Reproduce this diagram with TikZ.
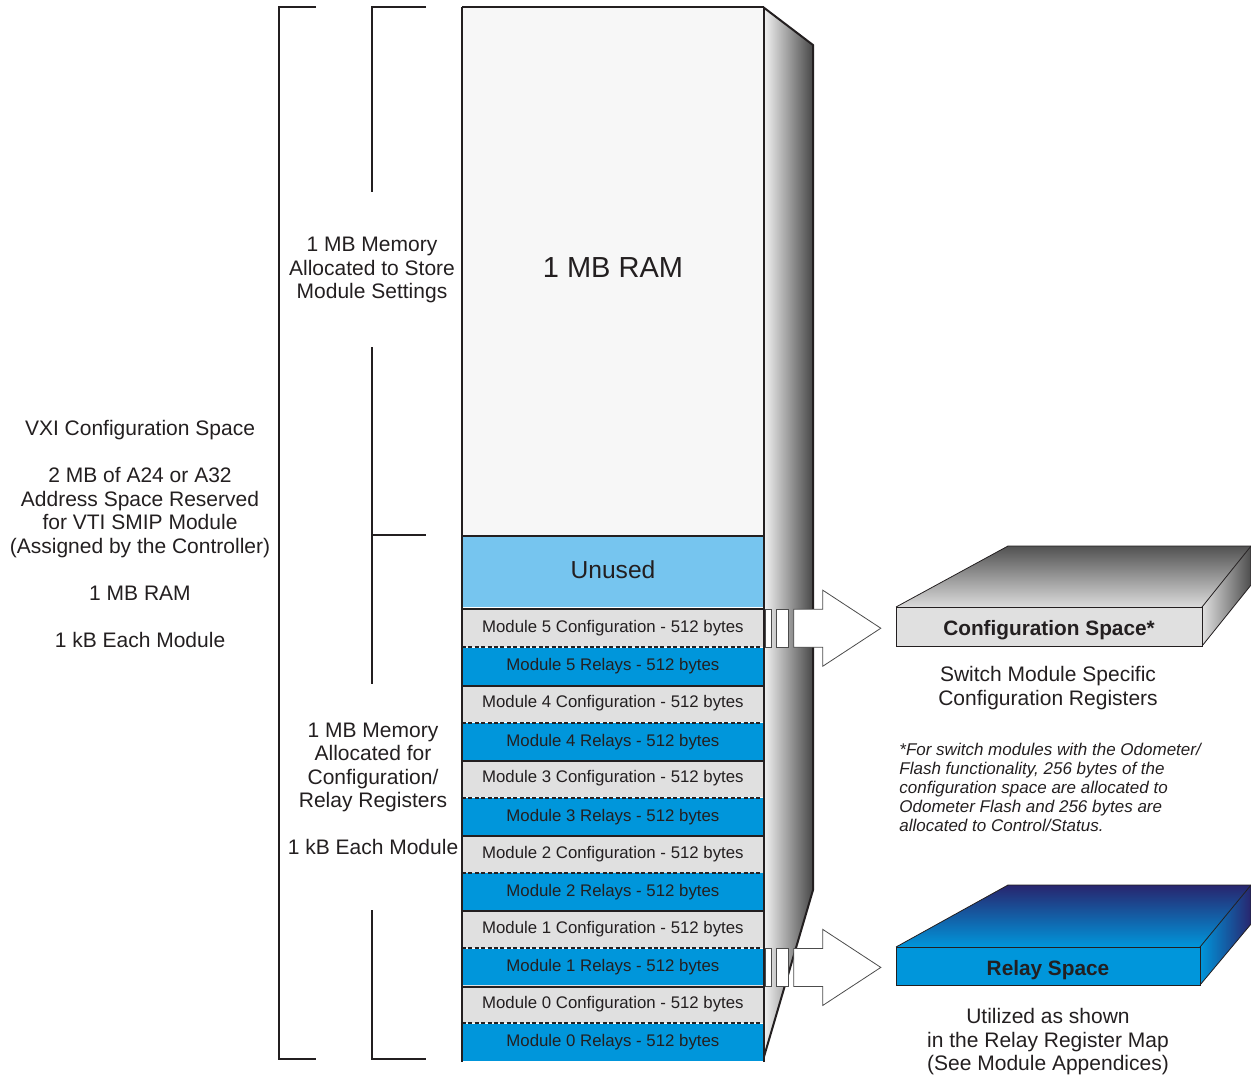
\documentclass[tikz,border=0pt]{standalone}
\usepackage{fontspec}
\setmainfont{Liberation Sans}
\usetikzlibrary{positioning}

\definecolor{ramgray}{HTML}{F7F7F7}
\definecolor{unusedblue}{HTML}{76C5EF}
\definecolor{cfggray}{HTML}{E0E0E0}
\definecolor{relblue}{HTML}{0096DB}
\definecolor{navy}{HTML}{28256E}
\definecolor{inkdark}{HTML}{231F20}

\begin{document}
\begin{tikzpicture}[x=0.5pt,y=-0.5pt,
    txt/.style={font=\fontsize{10.5}{11.75}\selectfont, align=center, inner sep=0pt, text=inkdark},
    rowbox/.style={font=\fontsize{8.4}{10}\selectfont, text=inkdark, inner sep=0pt,
                   minimum width=150.5pt, minimum height=18.8pt},
    cfgrow/.style={rowbox, fill=cfggray},
    relrow/.style={rowbox, fill=relblue},
    edge/.style={line width=1pt, draw=inkdark},
    sep/.style={line width=1pt, draw=inkdark, dash pattern=on 2pt off 1.2pt},
    bracket/.style={line width=1pt, draw=inkdark},
    blockarrow/.style={draw=black!70, fill=white, line width=0.4pt},
    boxline/.style={draw=inkdark, line width=0.4pt},
    spacetxt/.style={inner sep=0pt, font=\bfseries\fontsize{10.4}{12}\selectfont, text=inkdark,
                     text height=11.5pt, text depth=2.2pt}]

  \useasboundingbox (0,0) rectangle (1251,1078);

  % shaded side of the memory column
  \shade[left color=black!4, middle color=black!40, right color=black!72]
    (763,7) -- (813,45) -- (813,890) -- (763,1060) -- cycle;
  \draw[edge] (763,7) -- (813,45) -- (813,890) -- (763,1060);

  % memory column
  \node[fill=ramgray, inner sep=0pt, minimum width=150.5pt, minimum height=264pt, anchor=north west] (ram) at (462,7) {};
  \node[txt, font=\fontsize{14.5}{16}\selectfont] (ramtxt) at (613,268) {1 MB RAM};
  \node[fill=unusedblue, inner sep=0pt, minimum width=150.5pt, minimum height=36pt, anchor=north west] (unused) at (462,535) {};
  \node[txt, font=\fontsize{12.3}{14}\selectfont] (unusedtxt) at (613,570) {Unused};

  \foreach \m in {5,4,3,2,1,0} {
    \pgfmathsetmacro\ytop{609+(5-\m)*75.2}
    \node[cfgrow, anchor=north west] (cfg\m) at (462,\ytop) {Module \m\ Configuration - 512 bytes};
    \node[relrow, below=0pt of cfg\m] (rel\m) {Module \m\ Relays - 512 bytes};
    \draw[sep] (cfg\m.south west) -- (cfg\m.south east);
  }
  \foreach \m in {5,4,3,2,1} {
    \draw[edge] (rel\m.south west) -- (rel\m.south east);
  }
  \draw[edge] (ram.south west) -- (ram.south east);
  \draw[edge] (cfg5.north west) -- (cfg5.north east);
  \draw[edge] (ram.north west) -- (ram.north east);
  \draw[edge] (ram.north west) -- (rel0.south west);
  \draw[edge] (ram.north east) -- (rel0.south east);

  % arrows into the two spaces
  \foreach \r in {cfg5,rel1} {
    \begin{scope}[shift={(\r.east)}]
      \draw[blockarrow] (2,-19) rectangle (8,19);
      \draw[blockarrow] (13,-19) rectangle (25,19);
      \draw[blockarrow] (30,-19) -- (59,-19) -- (59,-38) -- (117,0) -- (59,38) -- (59,19) -- (30,19) -- cycle;
    \end{scope}
  }

  % brackets
  \draw[bracket] (316,7) -| (279,1059) -- (316,1059);
  \draw[bracket] (426,7) -| (372,192);
  \draw[bracket] (372,347) |- (426,535);
  \draw[bracket] (372,535) -- (372,684);
  \draw[bracket] (372,910) |- (426,1059);

  % left texts
  \node[txt] (vxi) at (140,534) {VXI Configuration Space\\[11.75pt]
    2 MB of A24 or A32\\Address Space Reserved\\for VTI SMIP Module\\(Assigned by the Controller)\\[11.75pt]
    1 MB RAM\\[11.75pt]1 kB Each Module};
  \node[txt] (store) at (372,270) {1 MB Memory\\Allocated to Store\\Module Settings};
  \node[txt] (regs) at (373,789) {1 MB Memory\\Allocated for\\Configuration/\\Relay Registers\\[11.75pt]1 kB Each Module};

  % configuration space box
  \shade[top color=black!68, bottom color=black!14] (896,607) -- (1008,546) -- (1251,546) -- (1202,607) -- cycle;
  \shade[left color=black!12, right color=black!70] (1202,607) -- (1251,546) -- (1251,585) -- (1202,646) -- cycle;
  \draw[boxline] (896,607) -- (1008,546) -- (1251,546) -- (1251,585) -- (1202,646);
  \draw[boxline] (1202,607) -- (1251,546);
  \node[fill=cfggray, boxline, spacetxt, minimum width=153pt, minimum height=19.5pt] (cfgspace) at (1049,626.5) {Configuration Space*};

  % relay space box
  \shade[top color=navy, bottom color=relblue] (896,947) -- (1008,885) -- (1251,885) -- (1200,947) -- cycle;
  \shade[left color=relblue, right color=navy] (1200,947) -- (1251,885) -- (1251,924) -- (1200,985) -- cycle;
  \draw[boxline] (896,947) -- (1008,885) -- (1251,885) -- (1251,924) -- (1200,985);
  \draw[boxline] (1200,947) -- (1251,885);
  \node[fill=relblue, boxline, spacetxt, minimum width=152pt, minimum height=19pt] (relspace) at (1048,966) {Relay Space};

  % right texts
  \node[txt] (cfgnote) at (1048,688) {Switch Module Specific\\Configuration Registers};
  \node[txt, align=left, anchor=west, font=\itshape\fontsize{8.5}{9.5}\selectfont] (odo) at (899,787)
    {*For switch modules with the Odometer/\\Flash functionality, 256 bytes of the\\configuration space are allocated to\\Odometer Flash and 256 bytes are\\allocated to Control/Status.};
  \node[txt] (relnote) at (1048,1042) {Utilized as shown\\in the Relay Register Map\\(See Module Appendices)};
\end{tikzpicture}
\end{document}
